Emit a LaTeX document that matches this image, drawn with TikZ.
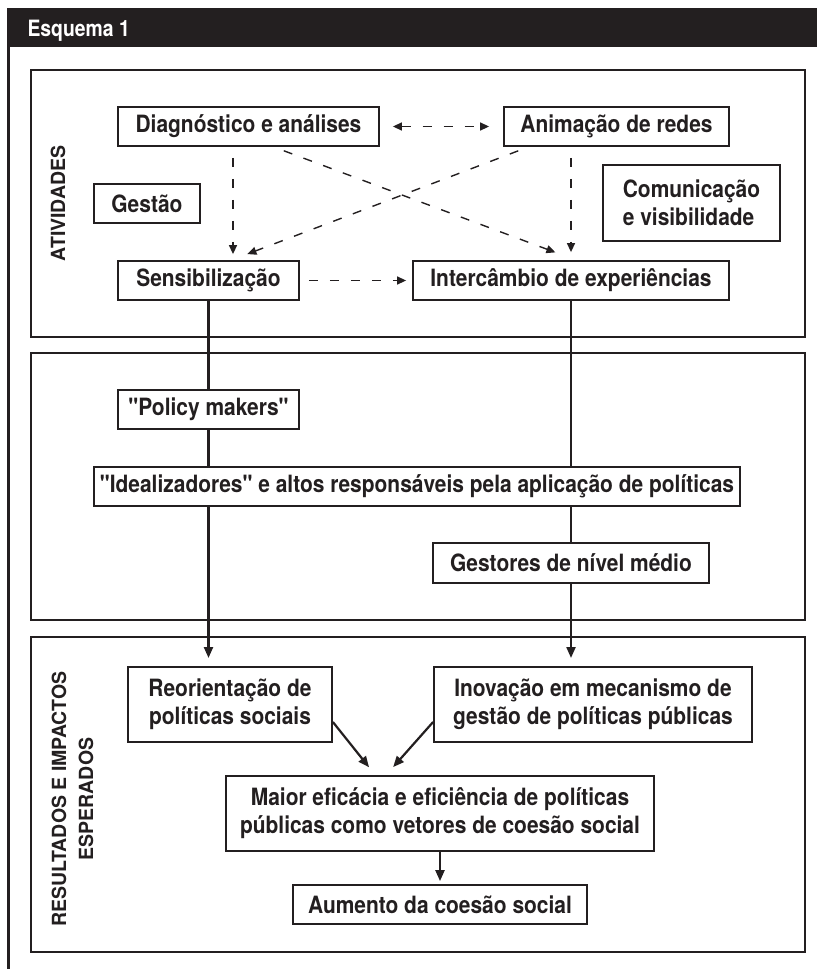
\documentclass[tikz,border=0pt]{standalone}
\usepackage{tikz}
\usetikzlibrary{arrows.meta}
\usepackage{fontspec}
\setmainfont{TeX Gyre Heros}
\newfontfamily\caixafont[FakeStretch=0.88]{TeX Gyre Heros}
\newfontfamily\titulofont[FakeStretch=0.86]{TeX Gyre Heros}
\definecolor{tinta}{HTML}{231F20}

\begin{document}
\begin{tikzpicture}[x=1pt,y=-1pt,>={Triangle[length=9pt,width=8pt]},
	every node/.style={text=tinta},
	caixa/.style={draw=tinta,fill=white,line width=1.8pt,inner sep=0pt,minimum height=39pt,align=center,
		font=\caixafont\bfseries\fontsize{23.8}{28}\selectfont},
	painel/.style={draw=tinta,line width=2.2pt},
	rotulo/.style={rotate=90,align=center,font=\bfseries\fontsize{19.5}{27}\selectfont},
	tracejado/.style={color=tinta,dash pattern=on 9pt off 12pt,line width=1.4pt},
	ligacao/.style={draw=tinta,line width=2.2pt,>={Triangle[length=11pt,width=9pt]}}]
	\useasboundingbox (0,0) rectangle (817,969);

	\fill[tinta] (7,8) rectangle (817,47);
	\draw[tinta,line width=2.6pt] (8.7,47) -- (8.7,969);
	\node[anchor=base west,text=white,font=\titulofont\bfseries\fontsize{22.5}{24}\selectfont] (titulo) at (24,36.7) {Esquema 1};

	\draw[painel] (31,70) rectangle (805,337);
	\draw[painel] (31,353) rectangle (805,620);
	\draw[painel] (31,637) rectangle (805,952);

	\node[rotulo] (ativ) at (58,203.5) {ATIVIDADES};
	\node[rotulo] (result) at (72.5,799) {RESULTADOS E IMPACTOS\\ESPERADOS};

	\node[caixa,minimum width=261pt] (diag) at (248.5,126.5) {Diagnóstico e análises};
	\node[caixa,minimum width=225pt] (anim) at (616.5,126.5) {Animação de redes};
	\node[caixa,minimum width=106pt] (gestao) at (147,203.5) {Gestão};
	\node[caixa,minimum width=177pt,minimum height=76pt,align=left] (comun) at (691.5,203) {Comunicação\\e visibilidade};
	\node[caixa,minimum width=181pt] (sens) at (208.5,280.5) {Sensibilização};
	\node[caixa,minimum width=316pt] (interc) at (571,280.5) {Intercâmbio de experiências};

	\node[caixa,minimum width=181pt] (pm) at (208.5,409.5) {"Policy makers"};
	\node[caixa,minimum width=646pt] (ideal) at (417,486.5) {"Idealizadores" e altos responsáveis pela aplicação de políticas};
	\node[caixa,minimum width=276pt,minimum height=40pt] (gest) at (571,563) {Gestores de nível médio};

	\node[caixa,minimum width=204pt,minimum height=75pt] (reor) at (230,704.5) {Reorientação de\\políticas sociais};
	\node[caixa,minimum width=318pt,minimum height=75pt] (inov) at (593,704.5) {Inovação em mecanismo de\\gestão de políticas públicas};
	\node[caixa,minimum width=428pt,minimum height=75pt] (maior) at (440,813.5) {Maior eficácia e eficiência de políticas\\públicas como vetores de coesão social};
	\node[caixa,minimum width=294pt] (aum) at (440,904.5) {Aumento da coesão social};

	\coordinate (setaL) at (208.5,658);
	\coordinate (setaR) at (571,658);

	\path[tracejado,<->]
	(diag) edge[shorten <=13pt,shorten >=14pt] (anim);
	\path[tracejado,->]
	([xshift=-15.5pt]diag.south) edge[shorten <=11pt,shorten >=6pt] ([xshift=24.5pt]sens.north)
	([xshift=-45.5pt]anim.south) edge[shorten <=11pt,shorten >=8pt] (interc.north)
	([xshift=25pt]diag.south) edge[shorten <=11pt,shorten >=22pt] ([xshift=5pt]interc.north)
	([xshift=-88pt]anim.south) edge[shorten <=11pt,shorten >=17pt] ([xshift=23pt]sens.north)
	(sens) edge[shorten <=9pt,shorten >=6pt] (interc)
	;

	\draw[ligacao] (sens) -- (pm);
	\draw[ligacao] (pm) -- (pm |- ideal.north);
	\draw[ligacao,->] (pm |- ideal.south) -- (setaL);
	\draw[ligacao] (interc) -- (interc |- ideal.north);
	\draw[ligacao] (gest |- ideal.south) -- (gest);
	\draw[ligacao,->] (gest) -- (setaR);

	\draw[ligacao,->,shorten >=10pt] ([yshift=-17.5pt]reor.east) -- ([xshift=-64.7pt]maior.north);
	\draw[ligacao,->,shorten >=10.7pt] ([yshift=-17.5pt]inov.west) -- ([xshift=-54pt]maior.north);
	\draw[ligacao,->,shorten >=3pt] (maior) -- (aum);
\end{tikzpicture}
\end{document}
